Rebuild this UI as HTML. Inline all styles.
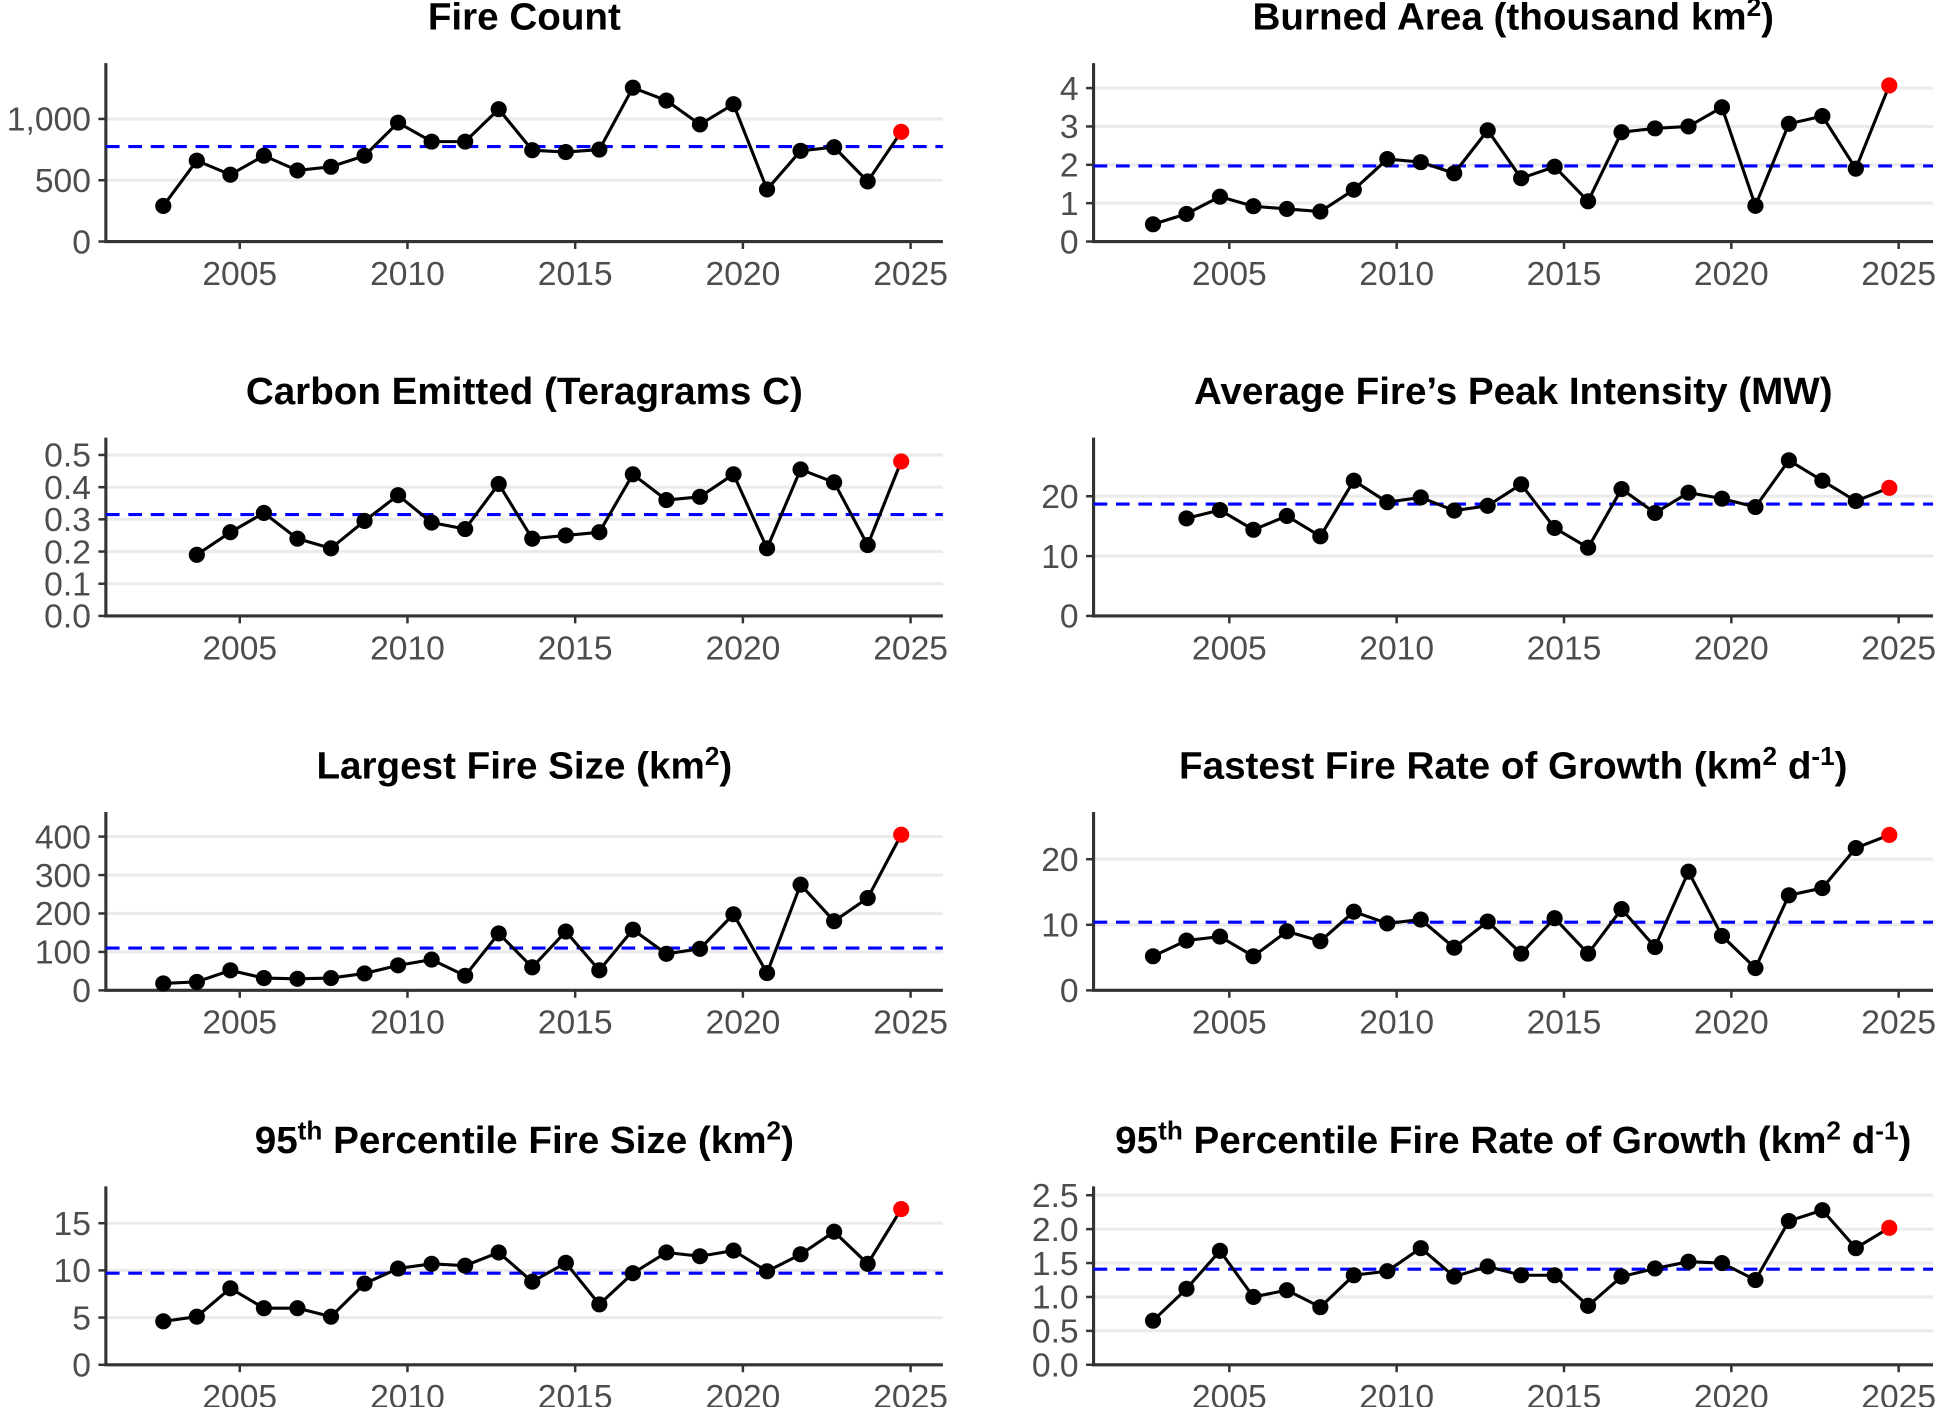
<!DOCTYPE html>
<html><head><meta charset="utf-8"><style>
html,body{margin:0;padding:0;background:#fff;}
svg{display:block;font-family:"Liberation Sans",sans-serif;}
</style></head><body>
<svg id="chart" width="1943" height="1407" viewBox="0 0 1560 1136" preserveAspectRatio="none" xmlns="http://www.w3.org/2000/svg"></svg>
<script>
const years = [2003,2004,2005,2006,2007,2008,2009,2010,2011,2012,2013,2014,2015,2016,2017,2018,2019,2020,2021,2022,2023,2024,2025];
const xTicks = [2005,2010,2015,2020,2025];
const fireCount = [290,660,545,700,580,610,700,970,815,815,1080,745,730,750,1255,1150,955,1120,425,740,770,490,895];
const burnedArea = [0.45,0.72,1.17,0.92,0.85,0.78,1.35,2.15,2.07,1.78,2.9,1.65,1.95,1.05,2.85,2.95,3.0,3.5,0.93,3.07,3.27,1.9,4.07];
const carbon = [null,0.19,0.26,0.32,0.24,0.21,0.295,0.375,0.29,0.27,0.41,0.24,0.25,0.26,0.44,0.36,0.37,0.44,0.21,0.455,0.415,0.22,0.48];
const intensity = [null,16.3,17.7,14.4,16.7,13.3,22.6,19.0,19.8,17.6,18.4,22.0,14.7,11.4,21.2,17.2,20.6,19.6,18.2,26.0,22.6,19.2,21.4];
const largestFire = [18,22,52,32,30,32,44,65,80,38,148,60,153,52,158,95,108,198,45,275,180,240,405];
const fastestGrowth = [5.2,7.6,8.2,5.2,9.0,7.5,12.0,10.2,10.8,6.5,10.5,5.6,11.0,5.6,12.4,6.6,18.1,8.3,3.4,14.5,15.6,21.7,23.7];
const p95Size = [4.6,5.1,8.1,6.0,6.0,5.1,8.6,10.2,10.7,10.5,11.9,8.8,10.8,6.4,9.7,11.9,11.5,12.1,9.9,11.7,14.1,10.7,16.5];
const p95Growth = [0.65,1.12,1.68,1.0,1.1,0.85,1.32,1.38,1.72,1.3,1.45,1.32,1.32,0.87,1.3,1.42,1.52,1.5,1.25,2.12,2.28,1.72,2.02];
const means = [775,1.97,0.315,18.7,110,10.4,9.7,1.41];
const yTicks1 = [0,500,1000]; const yLabels1 = ["0","500","1,000"];
const yTicks2 = [0,1,2,3,4];
const yTicks3 = [0,0.1,0.2,0.3,0.4,0.5]; const yLabels3 = ["0.0","0.1","0.2","0.3","0.4","0.5"];
const yTicks4 = [0,10,20];
const yTicks5 = [0,100,200,300,400];
const yTicks6 = [0,10,20];
const yTicks7 = [0,5,10,15];
const yTicks8 = [0,0.5,1,1.5,2,2.5]; const yLabels8 = ["0.0","0.5","1.0","1.5","2.0","2.5"];

const NS="http://www.w3.org/2000/svg";
const svg=document.getElementById('chart');
function mk(tag,attrs,parent){const e=document.createElementNS(NS,tag);for(const k in attrs)e.setAttribute(k,attrs[k]);(parent||svg).appendChild(e);return e;}

const panels=[
 {name:'fire-count',title:[['Fire Count']],vals:fireCount,ymax:1455,ticks:yTicks1,labels:yLabels1,col:0,row:0},
 {name:'burned-area',title:[['Burned Area (thousand km'],['2','sup'],[')']],vals:burnedArea,ymax:4.65,ticks:yTicks2,labels:yTicks2.map(String),col:1,row:0},
 {name:'carbon-emitted',title:[['Carbon Emitted (Teragrams C)']],vals:carbon,ymax:0.554,ticks:yTicks3,labels:yLabels3,col:0,row:1},
 {name:'peak-intensity',title:[['Average Fire\u2019s Peak Intensity (MW)']],vals:intensity,ymax:29.8,ticks:yTicks4,labels:yTicks4.map(String),col:1,row:1},
 {name:'largest-fire-size',title:[['Largest Fire Size (km'],['2','sup'],[')']],vals:largestFire,ymax:464,ticks:yTicks5,labels:yTicks5.map(String),col:0,row:2},
 {name:'fastest-growth',title:[['Fastest Fire Rate of Growth (km'],['2','sup'],[' d'],['-1','sup'],[')']],vals:fastestGrowth,ymax:27.2,ticks:yTicks6,labels:yTicks6.map(String),col:1,row:2},
 {name:'p95-fire-size',title:[['95'],['th','sup'],[' Percentile Fire Size (km'],['2','sup'],[')']],vals:p95Size,ymax:18.9,ticks:yTicks7,labels:yTicks7.map(String),col:0,row:3},
 {name:'p95-growth',title:[['95'],['th','sup'],[' Percentile Fire Rate of Growth (km'],['2','sup'],[' d'],['-1','sup'],[')']],vals:p95Growth,ymax:2.63,ticks:yTicks8,labels:yLabels8,col:1,row:3}
];

panels.forEach((p,i)=>{
  const L = p.col===0?85:878, R = p.col===0?757:1552;
  const B = 195 + p.row*302.3, T = B-144;
  const x0 = p.col===0?192.5:987, pxYear = p.col===0?26.93:26.87;
  const xs = v => x0 + (v-2005)*pxYear;
  const ys = v => B - v/p.ymax*(B-T);
  const g = mk('g',{});
  
  
  p.ticks.forEach((t,j)=>{
    const gl=mk('line',{x1:L,x2:R,y1:ys(t),y2:ys(t),stroke:'#ebebeb','stroke-width':2.5},g);
    
    
    const tk=mk('line',{x1:L-6,x2:L,y1:ys(t),y2:ys(t),stroke:'#333','stroke-width':2},g);
    
    
    const tl=mk('text',{x:L-12,y:ys(t)+9.5,'text-anchor':'end','font-size':27,fill:'#4d4d4d'},g);
    tl.textContent=p.labels[j];
    
    
  });
  xTicks.forEach(t=>{
    const tk=mk('line',{x1:xs(t),x2:xs(t),y1:B,y2:B+6,stroke:'#333','stroke-width':2},g);
    
    
    const tl=mk('text',{x:xs(t),y:B+35,'text-anchor':'middle','font-size':27,fill:'#4d4d4d'},g);
    tl.textContent=String(t);
    
    
  });
  const ax=mk('path',{d:`M${L},${T} V${B} H${R}`,fill:'none',stroke:'#333','stroke-width':2.5},g);
  
  
  const ml=mk('line',{x1:L,x2:R,y1:ys(means[i]),y2:ys(means[i]),stroke:'#0000ff','stroke-width':2.5,'stroke-dasharray':'11,7'},g);
  
  
  const pts=[];
  p.vals.forEach((v,k)=>{ if(v!==null) pts.push([xs(years[k]-0.28),ys(v),k]); });
  const ln=mk('polyline',{points:pts.map(q=>q[0]+','+q[1]).join(' '),fill:'none',stroke:'#000','stroke-width':2.5},g);
  
  
  pts.forEach(q=>{
    const last = q[2]===years.length-1;
    const c=mk('circle',{cx:q[0],cy:q[1],r:6.5,fill:last?'#ff0000':'#000'},g);
    
    
  });
  const tt=mk('text',{x:(L+R)/2,y:T-27,'text-anchor':'middle','font-size':31,'font-weight':'bold',fill:'#000'},g);
  
  
  p.title.forEach(seg=>{
    const ts=mk('tspan',{},tt);
    if(seg[1]==='sup'){ts.setAttribute('font-size','21');ts.setAttribute('dy','-11');}
    ts.textContent=seg[0];
  });
  let prevSup=false; tt.childNodes.forEach(ts=>{const isSup=ts.getAttribute('font-size')==='21'; if(!isSup){ts.setAttribute('dy',prevSup?'11':'0');} prevSup=isSup;});
});
</script>
</body></html>
